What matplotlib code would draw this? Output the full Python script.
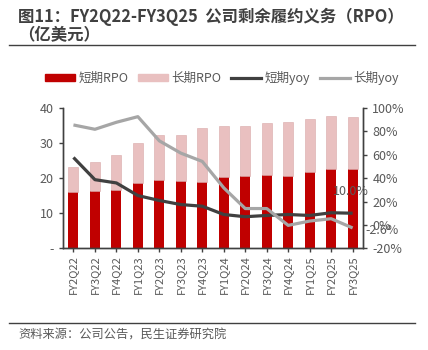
import matplotlib.pyplot as plt
from matplotlib.patches import Patch
from matplotlib.lines import Line2D

plt.rcParams['font.family'] = ['Noto Sans CJK SC', 'DejaVu Sans']

quarters = ["FY2Q22", "FY3Q22", "FY4Q22", "FY1Q23", "FY2Q23", "FY3Q23", "FY4Q23",
            "FY1Q24", "FY2Q24", "FY3Q24", "FY4Q24", "FY1Q25", "FY2Q25", "FY3Q25"]
short_rpo = [16.0, 16.2, 16.5, 18.6, 19.5, 19.3, 19.0, 20.3, 20.7, 20.8, 20.7, 21.8, 22.7, 22.7]
long_rpo = [7.3, 8.4, 10.0, 11.4, 12.7, 13.0, 15.3, 14.6, 14.3, 14.9, 15.2, 15.1, 15.1, 14.7]
short_yoy = [57.7, 38.7, 35.9, 25.1, 20.9, 17.4, 16.0, 8.9, 7.0, 8.1, 8.9, 8.1, 10.4, 10.0]
long_yoy = [85.5, 81.8, 87.8, 92.6, 71.9, 61.4, 54.3, 31.7, 14.0, 14.0, -0.4, 3.3, 5.3, -2.6]

red = '#C00000'
pink = '#E9C0C0'
dark = '#404040'
grey = '#A6A6A6'
txt = '#595959'

fig = plt.figure(figsize=(4.28, 3.5), dpi=100)
ax = fig.add_axes([0.1465, 0.2906, 0.7025, 0.4008])
ax2 = ax.twinx()

x = list(range(len(quarters)))
ax.bar(x, short_rpo, width=0.47, color=red, zorder=2)
ax.bar(x, long_rpo, width=0.47, bottom=short_rpo, color=pink, edgecolor='#D9A8A8', linewidth=0.4, zorder=2)
ax.set_xlim(-0.5, len(quarters) - 0.5)
ax.set_ylim(0, 40)
ax.set_yticks([0, 10, 20, 30, 40])
ax.set_yticklabels(['-', '10', '20', '30', '40'])
ax.set_xticks(x)
ax.set_xticklabels(quarters, rotation=90)

ax2.plot(x, short_yoy, color=dark, lw=2.3, solid_capstyle='butt')
ax2.plot(x, long_yoy, color=grey, lw=2.3, solid_capstyle='butt')
ax2.set_ylim(-20, 100)
ax2.set_yticks([-20, 0, 20, 40, 60, 80, 100])
ax2.set_yticklabels([f'{v}%' for v in [-20, 0, 20, 40, 60, 80, 100]])

# data labels on the last point
ax2.annotate(f'{short_yoy[-1]:.1f}%', (x[-1], short_yoy[-1]), xytext=(-1, 11),
             textcoords='offset points', ha='center', va='bottom', color=txt, fontsize=9)
ax2.annotate(f'{long_yoy[-1]:.1f}%', (x[-1], long_yoy[-1]), xytext=(9, -2),
             textcoords='offset points', ha='left', va='center', color=txt, fontsize=9)

for a in (ax, ax2):
    a.spines['top'].set_visible(False)
    for s in ('left', 'right', 'bottom'):
        a.spines[s].set_color(dark)
        a.spines[s].set_linewidth(1.0)
    a.tick_params(colors=txt, labelsize=9, length=3, width=1.0)
    a.tick_params(axis='both', color=dark)
ax.tick_params(axis='x', labelsize=8, pad=2)

# legend
handles = [Patch(color=red), Patch(color=pink),
           Line2D([], [], color=dark, lw=2.3), Line2D([], [], color=grey, lw=2.3)]
labels = ['短期RPO', '长期RPO', '短期yoy', '长期yoy']
fig.legend(handles, labels, loc='center', bbox_to_anchor=(0.518, 0.777), ncol=4, frameon=False,
           fontsize=9, handlelength=2.4, handleheight=0.45, handletextpad=0.25, columnspacing=0.8,
           labelcolor=txt)

# title and source
fig.text(0.042, 0.953, '图11：FY2Q22-FY3Q25  公司剩余履约义务（RPO）', fontsize=11.8, fontweight='bold',
         color=dark, va='center')
fig.text(0.042, 0.9, '（亿美元）', fontsize=11.8, fontweight='bold', color=dark, va='center')
fig.add_artist(Line2D([0.021, 0.97], [0.871, 0.871], color=dark, lw=1.0))
fig.add_artist(Line2D([0.021, 0.97], [0.076, 0.076], color=dark, lw=1.0))
fig.text(0.042, 0.043, '资料来源：公司公告，民生证券研究院', fontsize=8.8, color=txt, va='center')

fig.savefig('out.png', dpi=100)
